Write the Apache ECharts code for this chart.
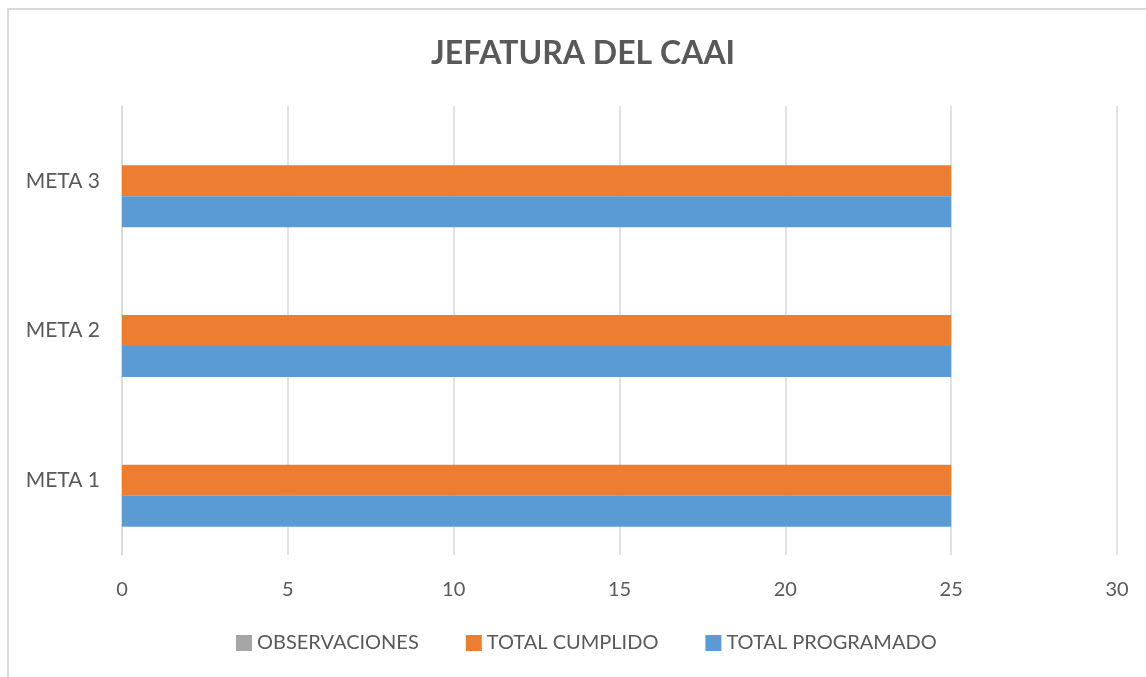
<!DOCTYPE html>
<html>
<head>
<meta charset="utf-8">
<script src="https://cdn.jsdelivr.net/npm/echarts@6/dist/echarts.min.js"></script>
<style>
  html, body { margin: 0; padding: 0; background: #fff; overflow: hidden; }
  #frame { position: absolute; left: 7px; top: 8px; width: 1200px; height: 700px;
           border-left: 2px solid #d9d9d9; border-top: 2px solid #d9d9d9; }
  #main { position: absolute; left: 0; top: 0; width: 1146px; height: 677px; }
</style>
</head>
<body>
<div id="frame"></div>
<div id="main"></div>
<script>
var categories = ['META 1', 'META 2', 'META 3'];
var programado = [25, 25, 25];
var cumplido = [25, 25, 25];
var observaciones = [0, 0, 0];
var xTicks = [0, 5, 10, 15, 20, 25, 30];

(function () {
    var myChart = echarts.init(document.getElementById('main'));
    var font = 'Lato, "Open Sans", sans-serif';
    myChart.setOption({
        animation: false,
        title: {
            text: 'JEFATURA DEL CAAI',
            left: 426,
            top: 33,
            textStyle: { fontFamily: font, fontSize: 32, fontWeight: 'bold', color: '#595959' }
        },
        legend: {
            top: 633,
            left: 236,
            padding: 0,
            itemWidth: 16,
            itemHeight: 16,
            itemGap: 47,
            icon: 'rect',
            textStyle: { fontFamily: font, fontSize: 20, color: '#595959' },
            data: ['OBSERVACIONES', 'TOTAL CUMPLIDO', 'TOTAL PROGRAMADO']
        },
        grid: { left: 122, right: 29, top: 106, bottom: 122 },
        xAxis: {
            type: 'value',
            min: xTicks[0],
            max: xTicks[xTicks.length - 1],
            interval: 5,
            axisLine: { show: false },
            axisTick: { show: false },
            splitLine: { lineStyle: { color: '#d9d9d9', width: 1.5 } },
            axisLabel: { fontFamily: font, fontSize: 20, color: '#595959', margin: 25 }
        },
        yAxis: {
            type: 'category',
            data: categories,
            axisLine: { show: true, lineStyle: { color: '#d9d9d9', width: 1.5 } },
            axisTick: { show: false },
            axisLabel: { fontFamily: font, fontSize: 21, color: '#595959', margin: 22 }
        },
        series: [
            { name: 'OBSERVACIONES', type: 'bar', data: observaciones, barWidth: 31, barGap: '0%',
              itemStyle: { color: '#a5a5a5' } },
            { name: 'TOTAL CUMPLIDO', type: 'bar', data: cumplido, barWidth: 31, barGap: '0%',
              itemStyle: { color: '#ed7d31' } },
            { name: 'TOTAL PROGRAMADO', type: 'bar', data: programado, barWidth: 31, barGap: '0%',
              itemStyle: { color: '#5b9bd5' } }
        ]
    });
    window.addEventListener('resize', function () { myChart.resize(); });
})();
</script>
</body>
</html>
